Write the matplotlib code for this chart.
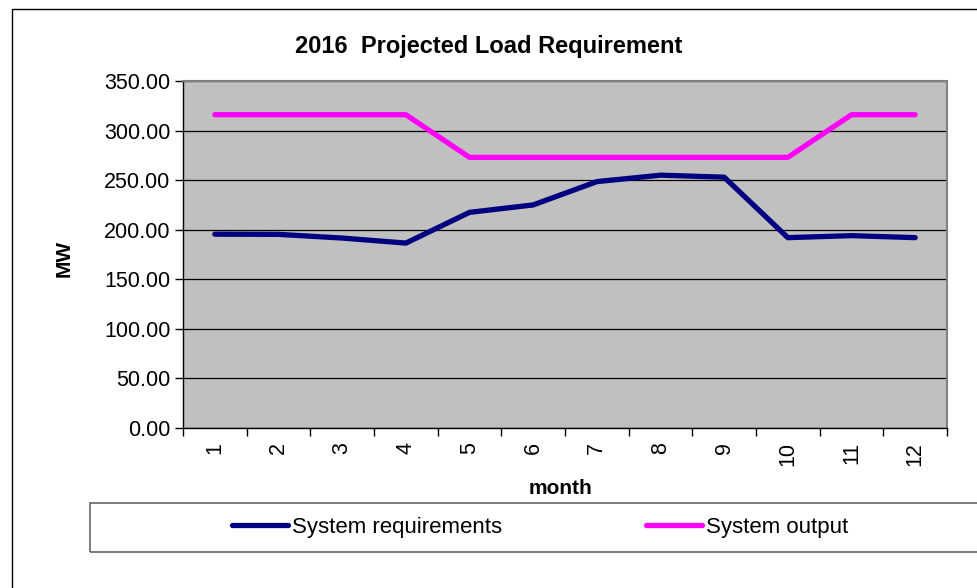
import matplotlib.pyplot as plt
from matplotlib.patches import Rectangle

months = [1, 2, 3, 4, 5, 6, 7, 8, 9, 10, 11, 12]
requirements = [195.5, 195.3, 191.6, 186.5, 217.5, 225.0, 248.5, 255.0, 253.0, 192.0, 194.0, 192.0]
output = [316.0, 316.0, 316.0, 316.0, 273.0, 273.0, 273.0, 273.0, 273.0, 273.0, 316.0, 316.0]
yticks = [0, 50, 100, 150, 200, 250, 300, 350]

plt.rcParams['font.family'] = ['Liberation Sans', 'DejaVu Sans']

fig = plt.figure(figsize=(9.78, 5.88), dpi=100)
ax = fig.add_axes([183/978, 1-428/588, (947-183)/978, (428-81)/588])
ax.set_facecolor('#c0c0c0')

ax.plot(months, requirements, color='#000080', lw=3.8, solid_capstyle='round', label='System requirements', zorder=3)
ax.plot(months, output, color='#ff00ff', lw=3.8, solid_capstyle='round', label='System output', zorder=3)

ax.set_xlim(0.5, 12.5)
ax.set_ylim(0, 350)
ax.set_yticks(yticks)
ax.set_yticklabels(['%.2f' % v for v in yticks], fontsize=15.5)
ax.yaxis.grid(True, color='black', lw=0.9)
ax.set_axisbelow(True)
ax.tick_params(axis='y', length=6, width=1, pad=3)

# category ticks sit between months, labels at month centres
ax.set_xticks([m - 0.5 for m in months] + [12.5])
ax.set_xticklabels([])
ax.set_xticks(months, minor=True)
ax.set_xticklabels([str(m) for m in months], minor=True, rotation=90, fontsize=15.5, va='top')
ax.tick_params(axis='x', which='major', length=6, width=1, direction='out')
ax.tick_params(axis='x', which='minor', length=0, pad=10)

for s in ['top', 'right']:
    ax.spines[s].set_color('#808080')
    ax.spines[s].set_linewidth(1.5)
for s in ['left', 'bottom']:
    ax.spines[s].set_color('black')
    ax.spines[s].set_linewidth(1)

fig.text(489/978, 1-47/588, '2016  Projected Load Requirement', ha='center', va='center',
         fontsize=17, fontweight='bold')
fig.text(64/978, 1-258/588, 'MW', ha='center', va='center', rotation=90, fontsize=15, fontweight='bold')
fig.text(561/978, 1-488/588, 'month', ha='center', va='center', fontsize=15, fontweight='bold')

# outer chart border and legend box
fig.patches.append(Rectangle((12/978, -0.1), 1.1, 1-9/588+0.1, transform=fig.transFigure,
                             fill=False, edgecolor='black', lw=1))
fig.patches.append(Rectangle((90/978, 1-552/588), 1.1, 49/588, transform=fig.transFigure,
                             fill=False, edgecolor='#666666', lw=1.2))

fig.legend(loc='center', bbox_to_anchor=(540/978, 1-527/588), ncol=2, frameon=False,
           fontsize=16, handlelength=2.5, handletextpad=0.18, columnspacing=6.5)

fig.savefig('out.png', dpi=100)
